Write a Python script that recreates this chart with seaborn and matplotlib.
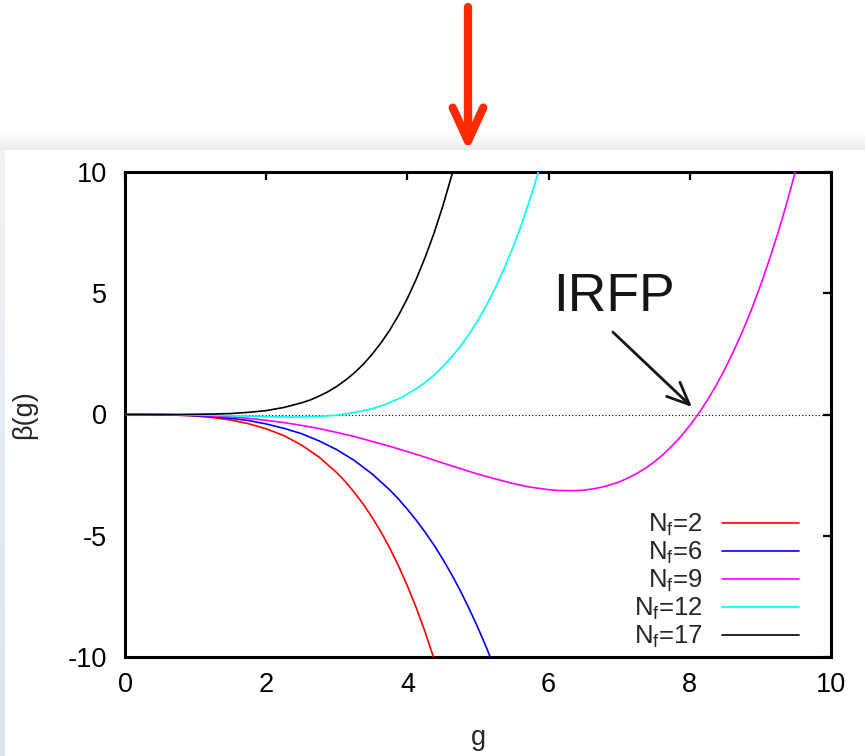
import numpy as np
import pandas as pd
import matplotlib
matplotlib.use("Agg")
import matplotlib.pyplot as plt
from matplotlib.patches import FancyArrowPatch
from matplotlib.colors import LinearSegmentedColormap
import seaborn as sns

# valores (beta(g) para cada N_f)
g_nf2 = [0, 0.25, 0.5, 0.75, 1, 1.25, 1.5, 1.75, 2, 2.25, 2.5, 2.75, 3, 3.125, 3.25, 3.375,
         3.5, 3.625, 3.75, 3.875, 4, 4.125, 4.25, 4.375, 4.5]
beta_nf2 = [0, 0.00, -0.01, -0.03, -0.06, -0.13, -0.23, -0.38, -0.59, -0.87, -1.26, -1.76,
            -2.40, -2.78, -3.22, -3.70, -4.24, -4.84, -5.51, -6.25, -7.07, -7.97, -8.96,
            -10.06, -11.25]

g_nf6 = [0, 0.25, 0.5, 0.75, 1, 1.25, 1.5, 1.75, 2, 2.25, 2.5, 2.75, 3, 3.25, 3.5, 3.75, 3.875,
         4, 4.125, 4.25, 4.375, 4.5, 4.625, 4.75, 4.875, 5, 5.125, 5.25]
beta_nf6 = [0, 0.00, -0.01, -0.02, -0.05, -0.09, -0.16, -0.25, -0.39, -0.57, -0.79, -1.09, -1.45,
            -1.90, -2.45, -3.11, -3.49, -3.91, -4.36, -4.85, -5.38, -5.96, -6.59, -7.27, -8.01,
            -8.80, -9.65, -10.57]

g_nf9 = [0, 0.25, 0.5, 0.75, 1, 1.25, 1.5, 1.75, 2, 2.25, 2.5, 2.75, 3, 3.25, 3.5, 3.75, 4, 4.25,
         4.5, 4.75, 5, 5.25, 5.5, 5.625, 5.75, 5.875, 6, 6.125, 6.25, 6.375, 6.5, 6.625, 6.75,
         6.875, 7, 7.125, 7.25, 7.375, 7.5, 7.625, 7.75, 7.875, 8, 8.125, 8.25, 8.375, 8.5,
         8.625, 8.75, 8.875, 9, 9.125, 9.25, 9.375, 9.5]
beta_nf9 = [0, 0.00, 0.00, -0.01, -0.03, -0.06, -0.10, -0.16, -0.24, -0.33, -0.45, -0.58, -0.74,
            -0.91, -1.11, -1.31, -1.53, -1.76, -2.00, -2.23, -2.46, -2.66, -2.85, -2.93, -3.00,
            -3.05, -3.10, -3.13, -3.14, -3.14, -3.12, -3.07, -3.00, -2.90, -2.78, -2.62, -2.43,
            -2.21, -1.95, -1.64, -1.29, -0.90, -0.45, 0.04, 0.60, 1.21, 1.89, 2.64, 3.45, 4.34,
            5.31, 6.37, 7.50, 8.73, 10.07]

g_nf12 = [0, 0.25, 0.5, 0.75, 1, 1.25, 1.5, 1.75, 2, 2.25, 2.5, 2.75, 3, 3.25, 3.5, 3.625, 3.75,
          3.875, 4, 4.125, 4.25, 4.375, 4.5, 4.625, 4.75, 4.875, 5, 5.125, 5.25, 5.375, 5.5,
          5.625, 5.75, 5.875, 6]
beta_nf12 = [0, 0.00, 0.00, -0.01, -0.02, -0.03, -0.05, -0.07, -0.09, -0.10, -0.10, -0.08, -0.03,
             0.08, 0.24, 0.35, 0.49, 0.65, 0.84, 1.06, 1.32, 1.62, 1.97, 2.37, 2.81, 3.32, 3.89,
             4.53, 5.25, 6.05, 6.93, 7.91, 9.00, 10.19, 11.50]

g_nf17 = [0, 0.25, 0.5, 0.75, 1, 1.25, 1.5, 1.75, 2, 2.25, 2.5, 2.625, 2.75, 2.875, 3, 3.125,
          3.25, 3.375, 3.5, 3.625, 3.75, 3.875, 4, 4.125, 4.25, 4.375, 4.5, 4.625, 4.75]
beta_nf17 = [0, 0.00, 0.00, 0.00, 0.01, 0.02, 0.04, 0.09, 0.16, 0.29, 0.48, 0.60, 0.76, 0.94,
             1.16, 1.42, 1.72, 2.07, 2.48, 2.95, 3.48, 4.09, 4.79, 5.58, 6.47, 7.46, 8.58, 9.83,
             11.22]

labels = [r'N$_\mathrm{f}$=2', r'N$_\mathrm{f}$=6', r'N$_\mathrm{f}$=9',
          r'N$_\mathrm{f}$=12', r'N$_\mathrm{f}$=17']
colors = ['#ff0000', '#0000ff', '#ff00ff', '#00ffff', '#000000']

# ponto fixo infravermelho (anotação)
irfp_text = (6.06, 4.26)
irfp_tail = (6.91, 3.40)
irfp_tip = (8.03, 0.31)


def create_plot():
    sns.set_theme(style="white")
    plt.rcParams['font.family'] = ['Liberation Sans', 'DejaVu Sans']
    plt.rcParams['mathtext.fontset'] = 'custom'
    plt.rcParams['mathtext.rm'] = 'Liberation Sans'
    plt.rcParams['mathtext.it'] = 'Liberation Sans:italic'

    frames = []
    for g, b, lab in zip([g_nf2, g_nf6, g_nf9, g_nf12, g_nf17],
                         [beta_nf2, beta_nf6, beta_nf9, beta_nf12, beta_nf17], labels):
        frames.append(pd.DataFrame({'g': g, 'beta': b, 'Nf': lab}))
    df = pd.concat(frames, ignore_index=True)

    fig = plt.figure(figsize=(8.65, 7.56), dpi=100)
    fig.patch.set_facecolor('white')

    # sombra do "cartão" e faixa lateral
    sh = fig.add_axes([0, (756 - 150) / 756, 1, 24 / 756])
    grad = np.linspace(1, 0, 50) ** 2
    sh.imshow(grad.reshape(-1, 1) * np.ones((1, 2)), aspect='auto',
              cmap=LinearSegmentedColormap.from_list('s', ['#ffffff', '#eaeaea']),
              extent=[0, 1, 0, 1], vmin=0, vmax=1, origin='lower')
    sh.axis('off')
    side = fig.add_axes([0, 0, 5 / 865, 606 / 756])
    side.imshow(np.linspace(0, 1, 50).reshape(-1, 1) * np.ones((1, 2)), aspect='auto',
                cmap=LinearSegmentedColormap.from_list('b', ['#f3f3f3', '#d9e2ee']),
                extent=[0, 1, 0, 1], vmin=0, vmax=1, origin='upper')
    side.axis('off')

    ax = fig.add_axes([125 / 865, 99 / 756, 706 / 865, 485 / 756])
    ax.axhline(0, color='black', ls=(0, (1, 2)), lw=0.8, zorder=1)

    sns.lineplot(data=df, x='g', y='beta', hue='Nf', palette=colors, hue_order=labels,
                 linewidth=1.2, sort=False, ax=ax, zorder=3)

    ax.set_xlim(0, 10)
    ax.set_ylim(-10, 10)
    ax.set_xticks([0, 2, 4, 6, 8, 10])
    ax.set_yticks([-10, -5, 0, 5, 10])
    ax.set_yticklabels(['-10', '-5', '0', '5', '10'])
    for sp in ax.spines.values():
        sp.set_linewidth(2.2)
        sp.set_color('black')
    ax.tick_params(direction='in', length=6, width=1.6, top=True, right=True,
                   labelsize=19.5, colors='black')
    ax.tick_params(axis='x', pad=10.5)
    ax.tick_params(axis='y', pad=13)
    ax.set_xlabel('g', fontsize=19.5, labelpad=20)
    ax.set_ylabel('β(g)', fontsize=19.5, labelpad=22)

    leg = ax.legend(loc='lower right', bbox_to_anchor=((799 - 125) / 706, (657 - 650) / 485),
                    frameon=False, markerfirst=False, fontsize=18.5, handlelength=3.0,
                    handletextpad=0.74, labelspacing=0.07, borderpad=0, borderaxespad=0)
    for line in leg.get_lines():
        line.set_linewidth(1.2)

    ax.text(irfp_text[0], irfp_text[1], 'IRFP', fontsize=38.5, color='#151515',
            ha='left', va='baseline')
    ax.annotate('', xy=irfp_tip, xytext=irfp_tail,
                arrowprops=dict(arrowstyle='->, head_length=16, head_width=7',
                                color='#151515', lw=2.0, shrinkA=0, shrinkB=0,
                                mutation_scale=1, capstyle='round'))

    # seta vermelha acima do gráfico
    arrow = FancyArrowPatch((468 / 865, (756 - 7) / 756), (468 / 865, (756 - 151) / 756),
                            transform=fig.transFigure, arrowstyle='->, head_length=24, head_width=11',
                            mutation_scale=1, color='#ff2a00', lw=6, shrinkA=0, shrinkB=0,
                            capstyle='round', joinstyle='round')
    fig.add_artist(arrow)

    fig.savefig('out.png', dpi=100)
    plt.close(fig)


if __name__ == '__main__':
    create_plot()
